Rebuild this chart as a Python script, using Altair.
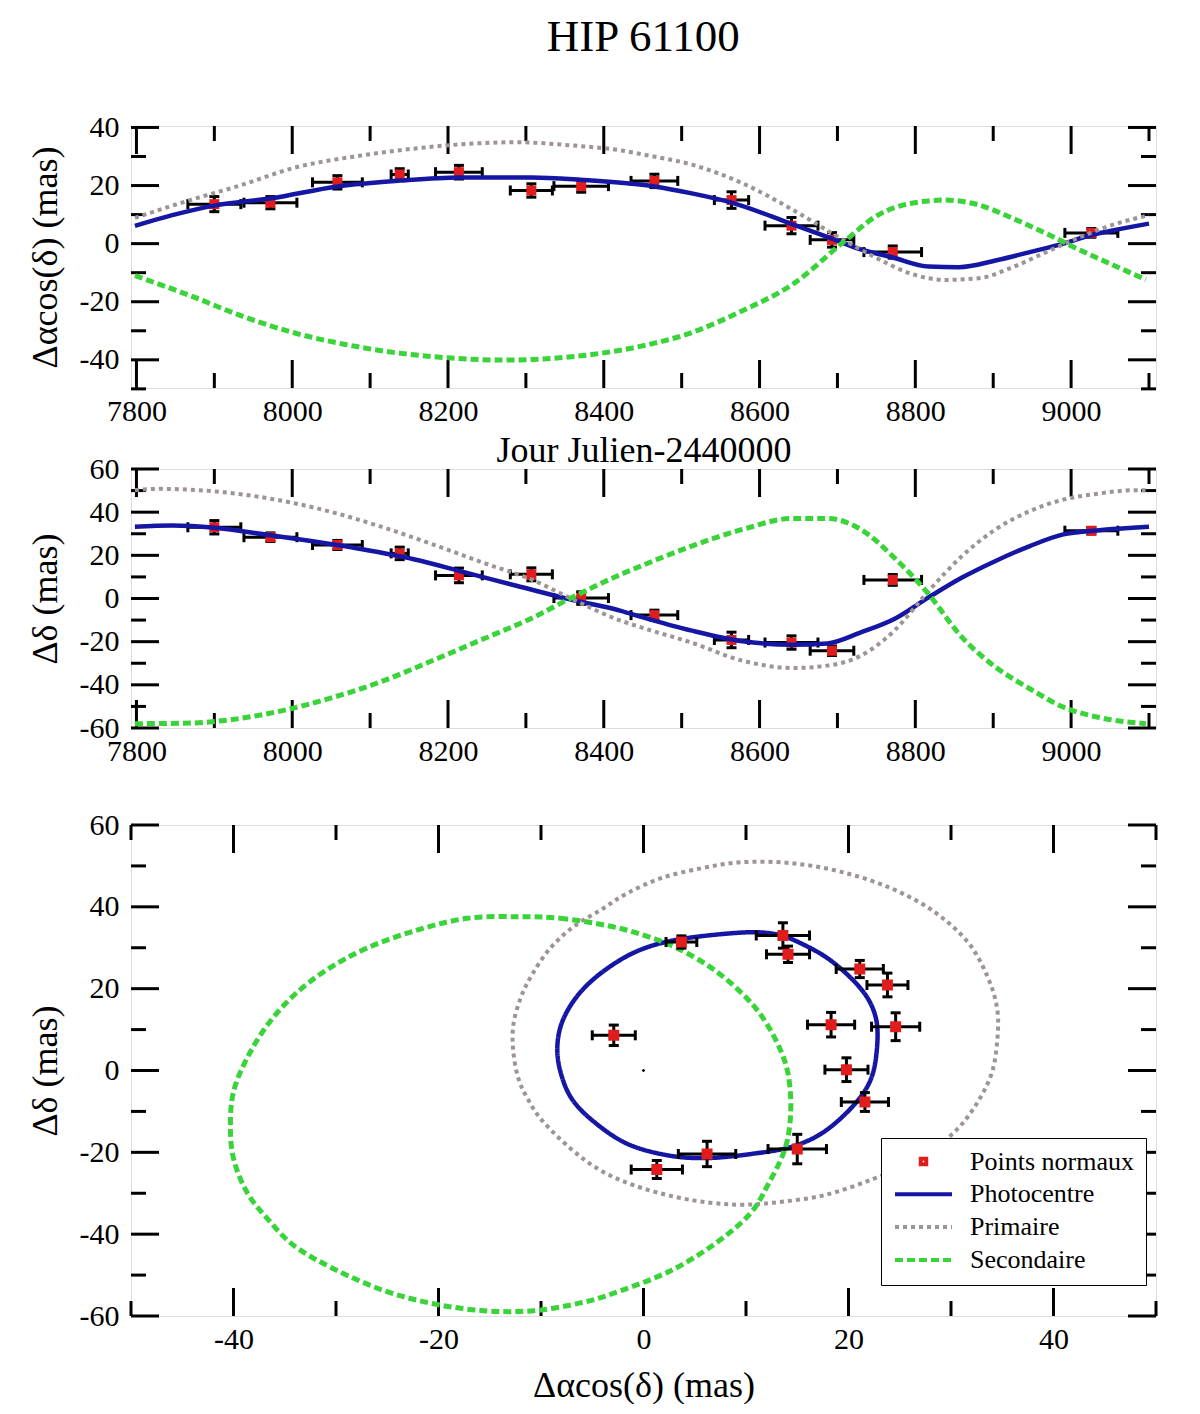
import altair as alt
import pandas as pd

# ---------------- normal points (same 13 epochs in the three panels) ----------------
JD = [7900, 7972, 8058, 8138, 8214, 8307, 8371, 8465, 8564, 8641, 8693, 8771, 9026]
JD_ERR = [34, 34, 32, 11, 30, 27, 35, 30, 22, 34, 28, 37, 34]
DRA = [13.6, 14.1, 21.1, 23.8, 24.6, 18.3, 19.8, 21.6, 15.0, 6.2, 1.3, -2.9, 3.7]
DRA_ERR = [2.6, 2.1, 2.3, 2.0, 2.35, 2.3, 2.1, 2.3, 2.85, 2.8, 2.5, 2.1, 1.5]
DDE = [33.0, 28.4, 24.8, 20.9, 10.7, 11.2, 0.2, -7.7, -19.2, -20.4, -24.2, 8.6, 31.4]
DDE_ERR = [3.1, 2.0, 2.1, 2.9, 3.4, 3.0, 2.9, 2.3, 3.6, 3.1, 2.2, 2.5, 1.5]

# ---------------- top panel curves: Delta alpha cos(delta) vs JD ----------------
T_RA_PHOTO = [7798, 7846, 7900, 7973, 8058, 8138, 8214, 8307, 8370, 8465, 8513, 8563,
              8640, 8693, 8730, 8769, 8817, 8856, 8903, 8947, 8990, 9025, 9055, 9100]
RA_PHOTO = [6.1, 9.8, 13.1, 15.6, 19.7, 21.7, 22.8, 22.8, 22.0, 19.7, 17.3, 14.2,
            6.9, 1.7, -2.0, -4.6, -7.9, -8.1, -5.8, -2.9, 0.0, 2.9, 4.6, 6.9]
T_RA_PRIM = [7798, 7869, 7935, 8001, 8090, 8156, 8223, 8289, 8355, 8422, 8460, 8513,
             8578, 8643, 8708, 8752, 8795, 8838, 8882, 8925, 8968, 9012, 9055, 9100]
RA_PRIM = [8.9, 15.0, 20.2, 26.0, 30.4, 32.7, 34.3, 34.9, 33.9, 32.1, 30.2, 27.2,
           20.8, 11.6, 1.2, -5.2, -10.4, -12.5, -11.9, -8.1, -2.9, 2.3, 6.6, 9.8]
T_RA_SEC = [7798, 7869, 7935, 8001, 8068, 8134, 8200, 8267, 8333, 8400, 8448, 8513,
            8578, 8643, 8708, 8752, 8795, 8838, 8882, 8925, 8968, 9012, 9055, 9096]
RA_SEC = [-11.0, -17.9, -24.9, -30.6, -34.7, -37.6, -39.3, -40.1, -39.5, -37.6, -35.3, -30.6,
          -23.1, -13.9, 0.6, 9.8, 13.9, 15.0, 13.3, 8.7, 3.5, -2.3, -7.5, -12.4]

# ---------------- middle panel curves: Delta delta vs JD ----------------
T_DE_PHOTO = [7798, 7846, 7900, 7970, 8024, 8090, 8156, 8223, 8289, 8355, 8422, 8448, 8513,
              8578, 8643, 8687, 8730, 8773, 8817, 8860, 8903, 8947, 8990, 9033, 9100]
DE_PHOTO = [33.2, 33.8, 32.8, 29.4, 26.6, 22.8, 18.2, 12.0, 5.8, -0.3, -5.7, -8.5, -14.9,
            -19.8, -21.4, -20.8, -15.7, -9.5, 0.5, 9.7, 17.4, 24.3, 29.7, 31.5, 33.2]
T_DE_PRIM = [7798, 7829, 7913, 7979, 8046, 8112, 8178, 8245, 8311, 8355, 8422, 8448, 8513,
             8578, 8643, 8687, 8730, 8773, 8817, 8860, 8903, 8947, 8990, 9033, 9083, 9100]
DE_PRIM = [50.2, 50.8, 49.2, 45.8, 40.5, 33.5, 25.4, 16.6, 8.2, 0.5, -10.3, -13.4, -20.5,
           -28.8, -32.2, -31.1, -26.5, -14.9, 3.5, 19.7, 32.0, 40.5, 45.8, 48.5, 50.2, 50.2]
T_DE_SEC = [7798, 7869, 7913, 7979, 8046, 8112, 8178, 8245, 8311, 8355, 8422, 8448, 8513,
            8578, 8643, 8687, 8730, 8773, 8817, 8860, 8903, 8947, 8990, 9033, 9096]
DE_SEC = [-58.0, -57.7, -56.5, -52.6, -46.5, -38.8, -29.1, -18.8, -8.5, -0.3, 11.2, 15.1, 24.3,
          32.0, 37.1, 37.1, 32.0, 18.9, 2.0, -18.0, -31.8, -41.8, -50.3, -54.9, -58.0]

# ---------------- bottom panel: orbits on the sky ----------------
ORB_PHOTO_X = [9.5, 3.6, -0.3, -3.5, -6.1, -7.8, -8.4, -8.1, -7.0, -4.8, -1.6, 2.3,
               6.2, 10.8, 14.5, 17.6, 20.5, 22.2, 22.8, 22.6, 21.2, 18.2, 15.0, 12.7]
ORB_PHOTO_Y = [33.7, 32.1, 29.5, 25.0, 19.3, 12.7, 6.2, -0.3, -6.9, -12.6, -17.9, -20.7,
               -21.4, -20.3, -18.6, -15.0, -8.5, -2.0, 6.2, 13.5, 20.0, 27.0, 31.5, 33.4]
ORB_PRIM_X = [9.5, 5.6, 1.7, -1.6, -4.2, -6.8, -9.1, -10.9, -12.0, -12.7, -12.7, -12.2,
              -11.3, -9.9, -7.1, -4.2, -0.9, 3.1, 6.5, 9.5, 12.7, 17.6, 22.5, 26.7,
              30.0, 32.2, 33.9, 34.5, 34.5, 33.5, 31.6, 28.3, 24.1, 19.2, 14.3]
ORB_PRIM_Y = [50.9, 49.4, 47.0, 43.3, 39.2, 35.2, 29.9, 23.3, 17.6, 11.1, 4.6, -2.0,
              -6.9, -12.2, -19.1, -24.4, -28.1, -30.9, -32.3, -32.8, -32.3, -30.5, -26.4, -21.5,
              -15.8, -9.3, -1.2, 7.0, 15.2, 23.3, 31.5, 38.9, 44.6, 48.6, 50.7]
ORB_SEC_X = [-12.3, -8.1, -3.5, 0.0, 3.3, 6.9, 10.1, 12.1, 13.7, 14.3, 14.3, 13.7,
             12.1, 10.4, 7.0, 2.6, -2.2, -5.8, -10.7, -15.6, -20.5, -25.3, -30.2, -34.1,
             -36.7, -38.7, -40.0, -40.3, -40.0, -38.7, -36.7, -34.1, -30.9, -27.0, -22.1, -17.2]
ORB_SEC_Y = [37.6, 37.2, 35.4, 33.1, 29.9, 24.6, 17.6, 11.1, 2.9, -4.4, -12.6, -19.9,
             -28.1, -35.0, -42.3, -49.0, -53.8, -56.6, -58.7, -58.7, -57.0, -53.8, -48.5, -42.8,
             -36.2, -29.7, -21.5, -13.4, -5.2, 2.9, 11.1, 18.4, 24.6, 29.9, 34.3, 37.2]
CENTRE_X = [0.0]
CENTRE_Y = [0.0]

# ---------------- axes ticks ----------------
JD_MAJOR = [7800, 8000, 8200, 8400, 8600, 8800, 9000]
JD_MINOR = [7900, 8100, 8300, 8500, 8700, 8900, 9100]
RA_MAJOR = [-40, -20, 0, 20, 40]
RA_MINOR = [-50, -30, -10, 10, 30]
DE_MAJOR = [-60, -40, -20, 0, 20, 40, 60]
DE_MINOR = [-50, -30, -10, 10, 30, 50]
ORB_X_MAJOR = [-40, -20, 0, 20, 40]
ORB_X_MINOR = [-50, -30, -10, 10, 30, 50]

SERIES = ["Points normaux", "Photocentre", "Primaire", "Secondaire"]

# ---------------- styles ----------------
FONT = "Liberation Serif"
RED = "#e01c1c"
BLUE = "#1616a4"
GREY = "#9e9494"
GREEN = "#3ad43a"
W = 1025
H1, H2, H3 = 262, 259, 491
MAJ, MIN = 28, 15


def make_axis(values, title, orient, H, title_y=None):
    kw = dict(values=values, ticks=False, domain=False, grid=False,
              labelFont=FONT, labelFontSize=30, labelColor="black",
              labelPadding=8 if orient == "x" else 12,
              labelFlush=False, labelOverlap=False, labelExpr="'' + datum.value",
              titleFont=FONT, titleFontSize=36, titleFontWeight="normal", titleColor="black")
    if title is None:
        kw["title"] = None
    else:
        kw["title"] = title
        if orient == "x":
            kw.update(titleY=title_y, titleBaseline="alphabetic", titleX=W / 2, titleAlign="center")
        else:
            kw.update(titleX=-86, titleY=H / 2, titleAngle=-90, titleBaseline="middle",
                      titleAlign="center")
    return alt.Axis(**kw)


def tick_layers(X, Y, H, xmaj, xmin, ymaj, ymin):
    """Inward ticks on all four sides of the frame."""
    rule = dict(color="black", strokeWidth=3)
    layers = []
    for vals, L in ((xmaj, MAJ), (xmin, MIN)):
        base = alt.Chart(pd.DataFrame({"x": vals})).mark_rule(**rule)
        layers.append(base.encode(x=X("x"), y=alt.value(H), y2=alt.value(H - L)))
        layers.append(base.encode(x=X("x"), y=alt.value(0), y2=alt.value(L)))
    for vals, L in ((ymaj, MAJ), (ymin, MIN)):
        base = alt.Chart(pd.DataFrame({"y": vals})).mark_rule(**rule)
        layers.append(base.encode(y=Y("y"), x=alt.value(0), x2=alt.value(L)))
        layers.append(base.encode(y=Y("y"), x=alt.value(W), x2=alt.value(W - L)))
    return layers


def errbar_layers(df, X, Y):
    b = alt.Chart(df)
    return [
        b.mark_rule(color="black", strokeWidth=3).encode(x=X("xlo"), x2="xhi", y=Y("y")),
        b.mark_rule(color="black", strokeWidth=3).encode(x=X("x"), y=Y("ylo"), y2="yhi"),
        b.mark_rule(color="black", strokeWidth=3, yOffset=-5, y2Offset=5).encode(
            x=X("xlo"), y=Y("y"), y2="y"),
        b.mark_rule(color="black", strokeWidth=3, yOffset=-5, y2Offset=5).encode(
            x=X("xhi"), y=Y("y"), y2="y"),
        b.mark_rule(color="black", strokeWidth=3, xOffset=-5, x2Offset=5).encode(
            x=X("x"), x2="x", y=Y("ylo")),
        b.mark_rule(color="black", strokeWidth=3, xOffset=-5, x2Offset=5).encode(
            x=X("x"), x2="x", y=Y("yhi")),
    ]


def pts_frame(xv, xe, yv, ye):
    return pd.DataFrame({
        "x": xv, "y": yv,
        "xlo": [a - e for a, e in zip(xv, xe)], "xhi": [a + e for a, e in zip(xv, xe)],
        "ylo": [a - e for a, e in zip(yv, ye)], "yhi": [a + e for a, e in zip(yv, ye)],
        "s": ["Points normaux"] * len(xv),
    })


STYLE = {
    "Photocentre": dict(color=BLUE, strokeWidth=4.5),
    "Primaire": dict(color=GREY, strokeWidth=4, strokeDash=[4, 4]),
    "Secondaire": dict(color=GREEN, strokeWidth=5, strokeDash=[8, 4]),
}


def time_panel(xs, ys, xax, yax, H, ymaj, ymin, pts, curves, extra=None):
    X = lambda f: alt.X(f, type="quantitative", scale=xs, axis=xax)
    Y = lambda f: alt.Y(f, type="quantitative", scale=ys, axis=yax)
    layers = tick_layers(X, Y, H, JD_MAJOR, JD_MINOR, ymaj, ymin)
    layers += errbar_layers(pts, X, Y)
    layers.append(alt.Chart(pts).mark_square(size=100, color=RED, opacity=1).encode(
        x=X("x"), y=Y("y")))
    for (t, v, name) in curves:
        df = pd.DataFrame({"x": t, "y": v})
        layers.append(alt.Chart(df).mark_line(interpolate="monotone", clip=True, strokeCap="butt",
                                              **STYLE[name]).encode(x=X("x"), y=Y("y")))
    if extra:
        layers += extra
    return alt.layer(*layers).properties(width=W, height=H)


# ---------------- panel 1 ----------------
xs_jd = alt.Scale(domain=[7793, 9109], nice=False, zero=False)
ys1 = alt.Scale(domain=[-49.7, 40.5], nice=False, zero=False)
p1 = time_panel(
    xs_jd, ys1,
    make_axis(JD_MAJOR, "Jour Julien-2440000", "x", H1, title_y=73),
    make_axis(RA_MAJOR, "Δαcos(δ) (mas)", "y", H1),
    H1, RA_MAJOR, RA_MINOR,
    pts_frame(JD, JD_ERR, DRA, DRA_ERR),
    [(T_RA_PHOTO, RA_PHOTO, "Photocentre"),
     (T_RA_PRIM, RA_PRIM, "Primaire"),
     (T_RA_SEC, RA_SEC, "Secondaire")],
)

# ---------------- panel 2 ----------------
ys2 = alt.Scale(domain=[-60, 60], nice=False, zero=False)
spacer = alt.Chart(pd.DataFrame({"a": [0]})).mark_rule(color="white", strokeWidth=1).encode(
    x=alt.value(0), x2=alt.value(1), y=alt.value(H2 + 96))
p2 = time_panel(
    xs_jd, ys2,
    make_axis(JD_MAJOR, None, "x", H2),
    make_axis(DE_MAJOR, "Δδ (mas)", "y", H2),
    H2, DE_MAJOR, DE_MINOR,
    pts_frame(JD, JD_ERR, DDE, DDE_ERR),
    [(T_DE_PHOTO, DE_PHOTO, "Photocentre"),
     (T_DE_PRIM, DE_PRIM, "Primaire"),
     (T_DE_SEC, DE_SEC, "Secondaire")],
    extra=[spacer],
)

# ---------------- panel 3 ----------------
xs3 = alt.Scale(domain=[-50, 50], nice=False, zero=False)
ys3 = alt.Scale(domain=[-60, 60], nice=False, zero=False)
X3 = lambda f: alt.X(f, type="quantitative", scale=xs3,
                     axis=make_axis(ORB_X_MAJOR, "Δαcos(δ) (mas)", "x", H3, title_y=80))
Y3 = lambda f: alt.Y(f, type="quantitative", scale=ys3,
                     axis=make_axis(DE_MAJOR, "Δδ (mas)", "y", H3))

LEGEND = alt.Legend(
    title=None, orient="none", legendX=750, legendY=313, direction="vertical",
    symbolType="stroke", symbolStrokeWidth=4,
    labelFont=FONT, labelFontSize=26, labelColor="black", labelLimit=400, labelOffset=16,
    padding=12, rowPadding=5.8, clipHeight=23, symbolFillColor=RED,
    strokeColor="black", fillColor="white",
)
CSCALE = alt.Scale(domain=SERIES, range=[RED, BLUE, GREY, GREEN])
DSCALE = alt.Scale(domain=SERIES, range=[[1, 0], [1, 0], [4, 4], [8, 4]])
SHSCALE = alt.Scale(domain=SERIES, range=["square", "stroke", "stroke", "stroke"])
SZSCALE = alt.Scale(type="ordinal", domain=SERIES, range=[30, 3249, 3249, 3249])

layers3 = tick_layers(X3, Y3, H3, ORB_X_MAJOR, ORB_X_MINOR, DE_MAJOR, DE_MINOR)
for (xv, yv, name) in ((ORB_PHOTO_X, ORB_PHOTO_Y, "Photocentre"),
                       (ORB_PRIM_X, ORB_PRIM_Y, "Primaire"),
                       (ORB_SEC_X, ORB_SEC_Y, "Secondaire")):
    df = pd.DataFrame({"x": xv, "y": yv, "o": list(range(len(xv))), "s": [name] * len(xv)})
    layers3.append(alt.Chart(df).mark_line(
        interpolate="cardinal-closed", clip=True, strokeCap="butt",
        strokeWidth=STYLE[name]["strokeWidth"]).encode(
        x=X3("x"), y=Y3("y"), order=alt.Order("o:Q"),
        color=alt.Color("s:N", scale=CSCALE, legend=LEGEND),
        strokeDash=alt.StrokeDash("s:N", scale=DSCALE, legend=LEGEND)))
pts3 = pts_frame(DRA, DRA_ERR, DDE, DDE_ERR)
layers3 += errbar_layers(pts3, X3, Y3)
layers3.append(alt.Chart(pts3).mark_point(filled=False, strokeWidth=5.5, opacity=1).encode(
    x=X3("x"), y=Y3("y"),
    color=alt.Color("s:N", scale=CSCALE, legend=LEGEND),
    shape=alt.Shape("s:N", scale=SHSCALE, legend=LEGEND),
    size=alt.Size("s:N", scale=SZSCALE, legend=LEGEND),
    strokeDash=alt.StrokeDash("s:N", scale=DSCALE, legend=LEGEND)))
layers3.append(alt.Chart(pd.DataFrame({"x": CENTRE_X, "y": CENTRE_Y})).mark_point(
    shape="diamond", filled=True, size=14, color="black", opacity=1).encode(x=X3("x"), y=Y3("y")))
p3 = alt.layer(*layers3).properties(width=W, height=H3)

chart = alt.vconcat(p1, p2, p3, spacing=-16).resolve_scale(
    color="independent", strokeDash="independent", shape="independent", size="independent"
).properties(
    title=alt.TitleParams("HIP  61100", font=FONT, fontSize=45, fontWeight="normal",
                          color="black", anchor="middle", dx=51, offset=7, baseline="bottom"),
    padding={"top": 6, "left": 18, "right": 10, "bottom": 0},
).configure_view(stroke="black", strokeWidth=4).configure(background="white")

chart.save("out.html", embed_options={"renderer": "svg", "actions": False})
